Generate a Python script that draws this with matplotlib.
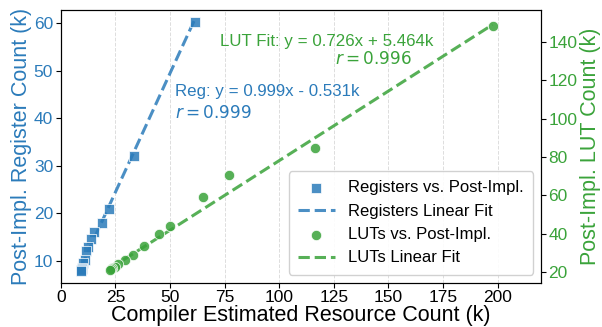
import numpy as np
import matplotlib.pyplot as plt

plt.rcParams['font.family'] = ['Liberation Sans', 'DejaVu Sans']

# compiler estimate (k) vs post-implementation count (k)
reg_est = [61.4, 33.4, 22.1, 18.9, 15.3, 14.0, 12.5, 11.7, 11.0, 10.2, 9.8, 9.6, 9.4, 9.3]
reg_post = [60.2, 32.1, 20.9, 18.0, 16.0, 14.6, 13.0, 12.0, 10.1, 9.5, 8.6, 8.4, 8.1, 7.8]

lut_est = [197.7, 116.2, 77.0, 65.1, 49.8, 45.0, 37.9, 33.1, 29.3, 26.2, 24.7, 23.6, 22.8, 22.4]
lut_post = [148.3, 84.9, 70.4, 59.1, 43.9, 39.9, 33.7, 28.8, 26.2, 24.2, 22.8, 21.9, 21.4, 21.0]

reg_fit = (0.999, -0.531, 0.999)
lut_fit = (0.726, 5.464, 0.996)

blue = '#2b7bba'
green = '#3aa33a'

fig, ax = plt.subplots(figsize=(6.02, 3.27), dpi=100)
ax2 = ax.twinx()

h1 = ax.scatter(reg_est, reg_post, marker='s', s=55, color=blue, alpha=0.85,
                edgecolors='white', linewidths=0.6, label='Registers vs. Post-Impl.', zorder=3)
xr = np.array([min(reg_est), max(reg_est)])
l1, = ax.plot(xr, reg_fit[0] * xr + reg_fit[1], '--', color=blue, alpha=0.85, lw=2.2,
              label='Registers Linear Fit')

h2 = ax2.scatter(lut_est, lut_post, marker='o', s=55, color=green, alpha=0.85,
                 edgecolors='white', linewidths=0.6, label='LUTs vs. Post-Impl.', zorder=3)
xl = np.array([min(lut_est), max(lut_est)])
l2, = ax2.plot(xl, lut_fit[0] * xl + lut_fit[1], '--', color=green, alpha=0.85, lw=2.2,
               label='LUTs Linear Fit')

ax.set_xlim(0, 220)
ax.set_ylim(5.4, 62.7)
ax2.set_ylim(14.3, 156.6)
ax.set_xticks(np.arange(0, 201, 25))
ax.set_yticks(np.arange(10, 61, 10))
ax2.set_yticks(np.arange(20, 141, 20))
ax.grid(axis='x', color='#dddddd', ls='--', lw=0.7)

ax.set_xlabel('Compiler Estimated Resource Count (k)', fontsize=15.5, labelpad=0)
ax.set_ylabel('Post-Impl. Register Count (k)', fontsize=15.5, color=blue, labelpad=1)
ax2.set_ylabel('Post-Impl. LUT Count (k)', fontsize=15.5, color=green, labelpad=2)
ax.tick_params(axis='x', labelsize=12.5, pad=2)
ax.tick_params(axis='y', labelsize=12.5, labelcolor=blue, pad=2)
ax2.tick_params(axis='y', labelsize=12.5, labelcolor=green, pad=1.5)

ax.text(0.237, 0.70, 'Reg: y = %.3fx - %.3fk' % (reg_fit[0], -reg_fit[1]),
        transform=ax.transAxes, color=blue, fontsize=12.2, va='center')
ax.text(0.237, 0.626, '$r = %.3f$' % reg_fit[2], transform=ax.transAxes,
        color=blue, fontsize=12.2, va='center')
ax.text(0.332, 0.886, 'LUT Fit: y = %.3fx + %.3fk' % (lut_fit[0], lut_fit[1]),
        transform=ax.transAxes, color=green, fontsize=12.2, va='center')
ax.text(0.57, 0.824, '$r = %.3f$' % lut_fit[2], transform=ax.transAxes,
        color=green, fontsize=12.2, va='center')

ax2.legend([h1, l1, h2, l2], [h.get_label() for h in [h1, l1, h2, l2]],
           loc='lower right', fontsize=12, framealpha=0.9, handlelength=2.2,
           borderpad=0.55, labelspacing=0.5)

fig.subplots_adjust(left=0.101, right=0.899, bottom=0.135, top=0.969)
fig.savefig('out.png', dpi=100)
